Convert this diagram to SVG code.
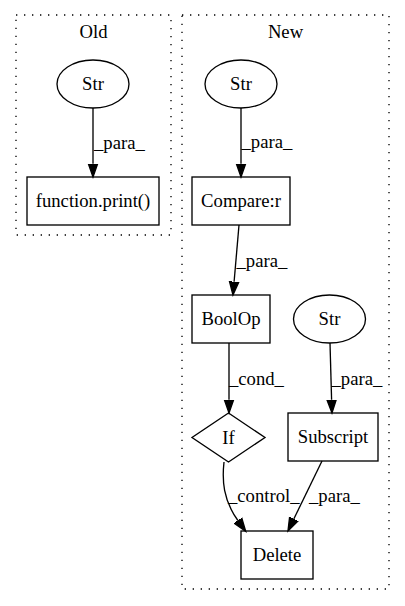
<svg xmlns="http://www.w3.org/2000/svg" width="405" height="606" viewBox="0 0 405 606">
  <style>
    .lbl { font-size: 18.67px; fill: #000; }
    .node { text-anchor: middle; }
    .shape { fill: none; stroke: #000; stroke-width: 1.33; }
    .cluster { fill: none; stroke: #000; stroke-width: 1.33; stroke-dasharray: 1.33 6.67; }
    .edge { fill: none; stroke: #000; stroke-width: 1.33; marker-end: url(#arrow); }
  </style>
  <defs>
    <marker id="arrow" markerUnits="userSpaceOnUse" markerWidth="16" markerHeight="12" viewBox="0 -6 16 12" refX="0" refY="0" orient="auto">
      <path d="M0,-4.67 L13.3,0 L0,4.67 Z" fill="#000" stroke="#000" stroke-width="1.33"/>
    </marker>
  </defs>
  <rect width="405" height="606" fill="#fff"/>

  <g font-family="Liberation Serif, DejaVu Serif, serif">
  <!-- clusters -->
  <g id="cluster_old">
    <rect class="cluster" x="16" y="15" width="155" height="220"/>
    <text class="lbl node" x="93.5" y="38">Old</text>
  </g>
  <g id="cluster_new">
    <rect class="cluster" x="182" y="15" width="207" height="574"/>
    <text class="lbl node" x="285.5" y="38">New</text>
  </g>

  <!-- nodes -->
  <g id="old_str">
    <ellipse class="shape" cx="93" cy="84" rx="36" ry="24"/>
    <text class="lbl node" x="93" y="90">Str</text>
  </g>
  <g id="old_print">
    <rect class="shape" x="27" y="177" width="132" height="48"/>
    <text class="lbl node" x="93" y="207">function.print()</text>
  </g>
  <g id="new_str">
    <ellipse class="shape" cx="241" cy="84" rx="36" ry="24"/>
    <text class="lbl node" x="241" y="90">Str</text>
  </g>
  <g id="compare">
    <rect class="shape" x="192" y="177" width="98" height="48"/>
    <text class="lbl node" x="241" y="207">Compare:r</text>
  </g>
  <g id="boolop">
    <rect class="shape" x="192" y="295" width="78" height="48"/>
    <text class="lbl node" x="231" y="325">BoolOp</text>
  </g>
  <g id="str_sub">
    <ellipse class="shape" cx="329.5" cy="319" rx="36" ry="24"/>
    <text class="lbl node" x="329.5" y="325">Str</text>
  </g>
  <g id="if">
    <polygon class="shape" points="228.5,413 265,437.5 228.5,462 192,437.5"/>
    <text class="lbl node" x="228.5" y="443.5">If</text>
  </g>
  <g id="subscript">
    <rect class="shape" x="288" y="413" width="90" height="48"/>
    <text class="lbl node" x="333" y="443">Subscript</text>
  </g>
  <g id="delete">
    <rect class="shape" x="241" y="531" width="72" height="48"/>
    <text class="lbl node" x="277" y="561">Delete</text>
  </g>

  <!-- connectors -->
  <g id="edges">
    <path class="edge" d="M93,108 L93,163.7"/>
    <text class="lbl" x="94" y="149">_para_</text>

    <path class="edge" d="M241,108 L241,163.7"/>
    <text class="lbl" x="241.5" y="148">_para_</text>

    <path class="edge" d="M239,225 L234.1,281.7"/>
    <text class="lbl" x="236.5" y="267">_para_</text>

    <path class="edge" d="M229,343 L229,399.7"/>
    <text class="lbl" x="229" y="385">_cond_</text>

    <path class="edge" d="M330,343 L331.6,399.7"/>
    <text class="lbl" x="331.5" y="385">_para_</text>

    <path class="edge" d="M224,462 C222,480 223,500 237.9,520.5"/>
    <text class="lbl" x="228" y="502">_control_</text>

    <path class="edge" d="M322,461 L293.8,519"/>
    <text class="lbl" x="309" y="502">_para_</text>
  </g>
  </g>
</svg>
